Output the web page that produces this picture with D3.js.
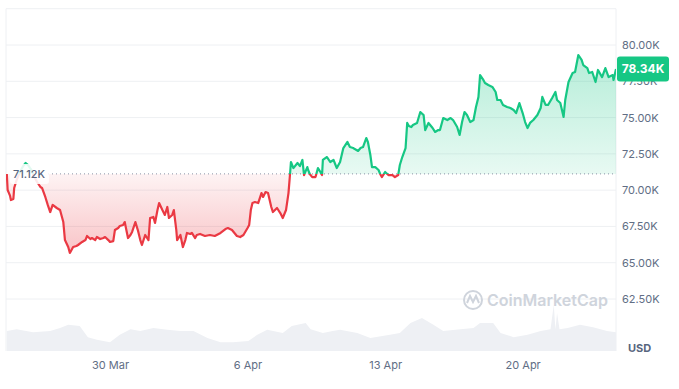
<!DOCTYPE html>
<html>
<head>
<meta charset="utf-8">
<script src="https://cdn.jsdelivr.net/npm/d3@7"></script>
<style>
  body{margin:0;background:#fff;}
  svg{display:block;font-family:Inter,"Noto Sans",sans-serif;}
</style>
</head>
<body>
<div class="canvas"></div>
<script>
// price, in thousands of USD, at hours after the first sample
const startTime = Date.UTC(2024, 2, 24, 17);
const hours = [1,2,5,6,9,10,13,17,21,24,27,31,34,38,42,44,48,51,54,57,62,66,70,72,76,78,82,86,88,93,97,99,103,105,109,111,115,119,121,125,127,131,133,137,139,143,145,149,152,154,158,161,164,166,170,174,176,180,182,185,187,191,194,197,199,203,205,208,209,213,216,219,221,225,227,231,233,237,243,249,255,262,268,271,276,282,286,290,295,297,299,301,304,308,312,314,317,320,324,326,331,335,338,342,345,347,348,351,356,359,362,364,368,369,371,374,378,381,384,386,387,390,392,396,400,402,404,408,412,417,420,424,426,430,433,436,440,442,445,447,451,455,457,459,463,467,472,475,479,481,484,488,490,492,495,497,502,506,510,512,516,521,524,528,530,534,539,543,546,551,554,557,560,563,567,571,574,577,579,583,585,589,594,598,600,604,607,612,616,620,623,627,631,634,637,640,644,649,653,655,659,662,667,671,673,677,681,683,687,692,695,699,703,705,710,712,716,720,723,728,732,736,741,742,745];
const prices = [71.11,70.01,69.60,69.32,69.39,70.15,70.70,71.25,71.66,71.87,71.73,71.39,70.97,70.56,70.22,70.15,69.53,68.98,68.49,68.98,68.77,68.63,67.80,66.56,66.08,65.67,66.08,66.15,66.22,66.43,66.56,66.84,66.63,66.70,66.56,66.77,66.63,66.70,66.77,66.56,66.43,66.49,67.25,67.39,67.53,67.60,67.80,66.70,66.91,67.12,67.80,67.25,66.56,66.22,66.91,66.56,68.08,68.15,67.74,68.63,69.11,68.63,68.29,68.84,68.08,68.29,68.63,67.25,66.56,66.91,66.08,66.56,67.05,66.98,67.05,66.70,66.91,66.98,66.84,66.91,66.84,67.05,67.32,67.39,67.25,66.84,66.77,66.91,67.39,67.60,68.63,69.11,69.18,69.11,69.80,69.53,69.87,69.80,68.84,68.49,68.77,68.42,68.08,68.63,69.80,71.18,71.94,71.52,71.87,71.66,72.08,71.04,71.59,71.39,71.11,70.90,70.90,71.52,71.25,71.04,72.08,72.21,72.28,71.94,72.08,71.80,71.52,71.94,72.90,73.32,72.97,72.90,72.83,72.70,72.90,72.97,73.59,73.32,72.42,71.59,71.59,71.39,71.11,70.90,71.25,71.04,71.04,70.90,71.04,71.73,72.28,72.90,74.63,74.42,74.35,74.49,74.63,75.38,75.18,74.14,74.63,74.28,74.01,74.14,74.14,74.97,74.83,74.97,74.83,74.35,73.80,74.69,75.38,75.18,74.69,74.83,75.73,76.42,77.93,77.59,77.38,77.24,77.11,76.76,76.21,76.21,75.87,75.73,75.66,75.52,75.31,76.00,75.31,74.69,74.28,74.63,74.83,75.18,75.66,76.42,75.87,75.87,76.35,76.76,76.21,76.00,75.04,76.21,77.45,78.07,78.14,79.31,78.97,78.62,78.41,78.07,78.14,77.45,78.28,77.79,78.41,77.79,77.93,77.59,78.34];
// traded volume (billions USD)
const volHours = [1,13,33,54,66,76,90,100,111,127,139,152,164,180,197,213,229,246,262,277,296,307,319,338,349,366,372,387,399,408,429,445,469,481,494,508,522,534,555,571,579,595,604,620,637,653,665,669,671,673,676,686,701,717,734,745];
const volumes = [32,35,30,32,37,42,40,22,18,14,26,35,32,37,34,32,32,21,14,14,16,26,34,29,40,45,35,29,32,34,29,21,26,29,45,53,42,32,35,37,45,45,29,22,26,32,35,74,35,61,35,37,42,38,32,30];

const baseValue = 71.12;
const lastValue = 78.34;
const gridValues = [62.5,65,67.5,70,72.5,75,77.5,80,82.5];
const yTickValues = [62.5,65,67.5,70,72.5,75,77.5,80];
const xTickDates = [new Date(Date.UTC(2024,2,30)),new Date(Date.UTC(2024,3,6)),new Date(Date.UTC(2024,3,13)),new Date(Date.UTC(2024,3,20))];

const green='#16c784', red='#ea3943', grid='#eef0f3', label='#616e85';
const W=679,H=389, left=6,right=616,bottom=351;

const toDate=h=>new Date(startTime+h*3600e3);
const data=hours.map((h,i)=>({t:toDate(h),v:prices[i]}));
const vol=volHours.map((h,i)=>({t:toDate(h),v:volumes[i]}));

const svg=d3.select('.canvas').append('svg').attr('width',W).attr('height',H);

const x=d3.scaleUtc().domain([toDate(0),toDate(745)]).range([left,right]);
const y=d3.scaleLinear().domain([62.5,80]).range([299,45]);
const yv=d3.scaleLinear().domain([0,80]).range([bottom,301]);
const yBase=y(baseValue);

// gradients + clips
const defs=svg.append('defs');
const gG=defs.append('linearGradient').attr('id','gFill').attr('gradientUnits','userSpaceOnUse')
  .attr('x1',0).attr('x2',0).attr('y1',y(79.5)).attr('y2',yBase);
gG.append('stop').attr('offset',0).attr('stop-color',green).attr('stop-opacity',0.32);
gG.append('stop').attr('offset',1).attr('stop-color',green).attr('stop-opacity',0.1);
const rG=defs.append('linearGradient').attr('id','rFill').attr('gradientUnits','userSpaceOnUse')
  .attr('x1',0).attr('x2',0).attr('y1',yBase).attr('y2',y(65.6));
rG.append('stop').attr('offset',0).attr('stop-color',red).attr('stop-opacity',0.06);
rG.append('stop').attr('offset',1).attr('stop-color',red).attr('stop-opacity',0.3);
defs.append('clipPath').attr('id','above').append('rect')
  .attr('x',left).attr('y',0).attr('width',right-left).attr('height',yBase);
defs.append('clipPath').attr('id','below').append('rect')
  .attr('x',left).attr('y',yBase).attr('width',right-left).attr('height',bottom-yBase);

// grid
svg.append('g').selectAll('line').data(gridValues).enter().append('line')
  .attr('x1',left).attr('x2',right).attr('y1',d=>y(d)).attr('y2',d=>y(d))
  .attr('stroke',grid).attr('stroke-width',1);
svg.append('g').selectAll('line').data([left,right]).enter().append('line')
  .attr('x1',d=>d).attr('x2',d=>d).attr('y1',y(82.5)).attr('y2',bottom)
  .attr('stroke',grid).attr('stroke-width',1);

// volume
svg.append('path').datum(vol)
  .attr('d',d3.area().x(d=>x(d.t)).y0(bottom).y1(d=>yv(d.v)))
  .attr('fill','#eef0f4');

// watermark
const wm=svg.append('g').attr('fill','none').attr('stroke','#cfd4dc').attr('stroke-width',2);
wm.append('circle').attr('cx',473).attr('cy',300).attr('r',9);
wm.append('path').attr('d','M467,303 L470,296 L473,302 L476,296 L479,303');
svg.append('text').attr('x',487).attr('y',306).attr('font-size',16).attr('font-weight',600)
  .attr('fill','#cfd4dc').text('CoinMarketCap');

// areas
const area=d3.area().x(d=>x(d.t)).y0(yBase).y1(d=>y(d.v));
svg.append('path').datum(data).attr('d',area).attr('fill','url(#gFill)').attr('clip-path','url(#above)');
svg.append('path').datum(data).attr('d',area).attr('fill','url(#rFill)').attr('clip-path','url(#below)');

// baseline
svg.append('line').attr('x1',48).attr('x2',right).attr('y1',yBase).attr('y2',yBase)
  .attr('stroke','#8a93a6').attr('stroke-width',1).attr('stroke-dasharray','1,3');

// line
const line=d3.line().x(d=>x(d.t)).y(d=>y(d.v));
svg.append('path').datum(data).attr('d',line).attr('fill','none').attr('stroke',green)
  .attr('stroke-width',2.2).attr('stroke-linejoin','round').attr('clip-path','url(#above)');
svg.append('path').datum(data).attr('d',line).attr('fill','none').attr('stroke',red)
  .attr('stroke-width',2.2).attr('stroke-linejoin','round').attr('clip-path','url(#below)');

// base label
svg.append('rect').attr('x',10).attr('y',yBase-10).attr('width',39).attr('height',20).attr('rx',3)
  .attr('fill','#fff').attr('fill-opacity',0.88);
svg.append('text').attr('x',13).attr('y',yBase).attr('dy','0.36em').attr('font-size',11)
  .attr('font-weight',500).attr('fill','#58667e').text(baseValue.toFixed(2)+'K');

// axes
const yAxis=d3.axisRight(y).tickValues(yTickValues).tickSize(0).tickPadding(6)
  .tickFormat(d=>d3.format('.2f')(d)+'K');
const yg=svg.append('g').attr('transform',`translate(${right},0)`).call(yAxis);
yg.select('.domain').remove();
yg.selectAll('text').attr('font-size',11).attr('font-family','Inter,sans-serif').attr('fill',label);

const xAxis=d3.axisBottom(x).tickValues(xTickDates).tickSize(0).tickPadding(10)
  .tickFormat(d3.utcFormat('%-d %b'));
const xg=svg.append('g').attr('transform',`translate(0,${bottom})`).call(xAxis);
xg.select('.domain').remove();
xg.selectAll('text').attr('font-size',11).attr('font-family','Inter,sans-serif').attr('fill',label);

svg.append('text').attr('x',628).attr('y',352).attr('font-size',11).attr('font-weight',700)
  .attr('fill','#58667e').text('USD');

// price tag
const yl=y(lastValue);
svg.append('rect').attr('x',617).attr('y',yl-12.5).attr('width',52).attr('height',25).attr('rx',3).attr('fill',green);
svg.append('text').attr('x',643).attr('y',yl).attr('dy','0.36em').attr('text-anchor','middle')
  .attr('font-size',12).attr('font-weight',700).attr('fill','#fff').text(lastValue.toFixed(2)+'K');
</script>
</body>
</html>
